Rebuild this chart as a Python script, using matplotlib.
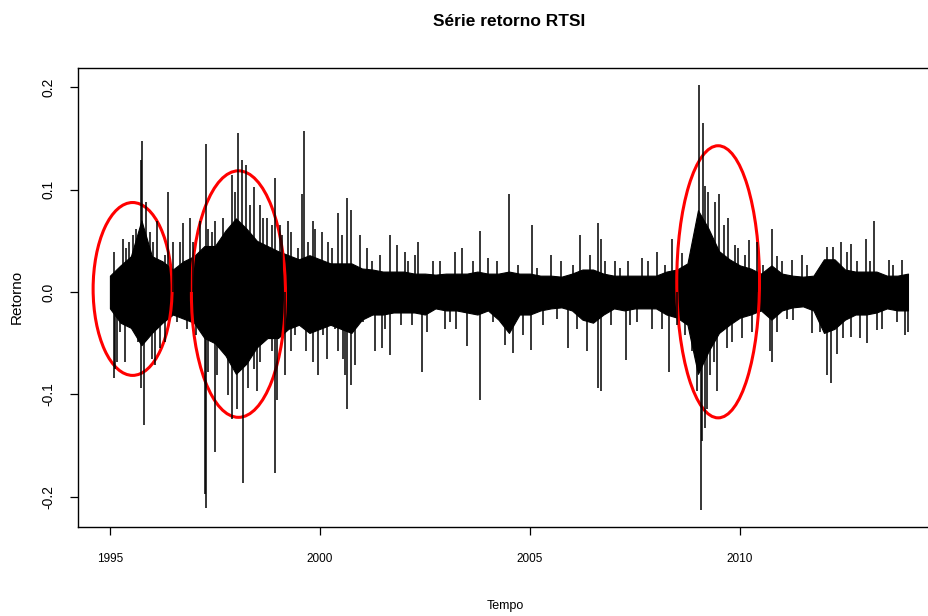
import numpy as np
import matplotlib
matplotlib.use("Agg")
import matplotlib.pyplot as plt
from matplotlib.patches import Ellipse

plt.rcParams['font.family'] = ['Liberation Sans', 'DejaVu Sans']

# ---- data ----
core_years = [1995.00, 1995.25, 1995.50, 1995.75, 1996.00, 1996.25, 1996.50, 1996.75,
              1997.00, 1997.25, 1997.50, 1997.75, 1998.00, 1998.25, 1998.50, 1998.75,
              1999.00, 1999.25, 1999.50, 1999.75, 2000.00, 2000.25, 2000.50, 2000.75,
              2001.00, 2001.25, 2001.50, 2001.75, 2002.00, 2002.25, 2002.50, 2002.75,
              2003.00, 2003.25, 2003.50, 2003.75, 2004.00, 2004.25, 2004.50, 2004.75,
              2005.00, 2005.25, 2005.50, 2005.75, 2006.00, 2006.25, 2006.50, 2006.75,
              2007.00, 2007.25, 2007.50, 2007.75, 2008.00, 2008.25, 2008.50, 2008.75,
              2009.00, 2009.25, 2009.50, 2009.75, 2010.00, 2010.25, 2010.50, 2010.75,
              2011.00, 2011.25, 2011.50, 2011.75, 2012.00, 2012.25, 2012.50, 2012.75,
              2013.00, 2013.25, 2013.50, 2013.75, 2014.00]
core_upper = [0.016, 0.026, 0.035, 0.070, 0.035, 0.030, 0.022, 0.030,
              0.035, 0.045, 0.045, 0.060, 0.072, 0.062, 0.050, 0.045,
              0.040, 0.036, 0.032, 0.036, 0.032, 0.028, 0.028, 0.028,
              0.023, 0.022, 0.020, 0.020, 0.020, 0.018, 0.018, 0.017,
              0.018, 0.018, 0.018, 0.020, 0.018, 0.018, 0.020, 0.018,
              0.018, 0.016, 0.016, 0.015, 0.018, 0.022, 0.022, 0.018,
              0.016, 0.016, 0.016, 0.016, 0.016, 0.020, 0.022, 0.028,
              0.080, 0.062, 0.040, 0.032, 0.026, 0.023, 0.018, 0.026,
              0.018, 0.016, 0.015, 0.016, 0.032, 0.032, 0.022, 0.020,
              0.020, 0.020, 0.016, 0.016, 0.018]
core_lower = [-0.016, -0.030, -0.035, -0.052, -0.040, -0.030, -0.022, -0.026,
              -0.030, -0.045, -0.050, -0.062, -0.080, -0.070, -0.054, -0.045,
              -0.045, -0.036, -0.032, -0.040, -0.036, -0.032, -0.036, -0.040,
              -0.027, -0.022, -0.022, -0.020, -0.020, -0.020, -0.022, -0.016,
              -0.018, -0.018, -0.020, -0.022, -0.018, -0.027, -0.040, -0.022,
              -0.022, -0.018, -0.016, -0.015, -0.018, -0.027, -0.030, -0.022,
              -0.016, -0.018, -0.016, -0.016, -0.016, -0.022, -0.025, -0.032,
              -0.080, -0.058, -0.040, -0.032, -0.025, -0.022, -0.018, -0.027,
              -0.018, -0.015, -0.014, -0.018, -0.040, -0.036, -0.027, -0.022,
              -0.022, -0.020, -0.016, -0.018, -0.018]

spike_years = [1995.10, 1995.10, 1995.12, 1995.17, 1995.30, 1995.36, 1995.46, 1995.62,
               1995.73, 1995.73, 1995.77, 1995.82, 1995.87, 1995.99, 1995.99, 1996.07,
               1996.13, 1996.31, 1996.31, 1996.39, 1996.51, 1996.59, 1996.75, 1996.84,
               1996.90, 1996.98, 1997.14, 1997.26, 1997.29, 1997.29, 1997.34, 1997.34,
               1997.50, 1997.50, 1997.62, 1997.62, 1997.90, 1997.90, 1997.98, 1998.06,
               1998.14, 1998.16, 1998.25, 1998.29, 1998.43, 1998.43, 1998.57, 1998.57,
               1998.65,
               1998.73, 1998.85, 1998.85, 1998.93, 1998.93, 1998.97, 1999.05, 1999.17,
               1999.23, 1999.32, 1999.32, 1999.47, 1999.58, 1999.63, 1999.68, 1999.84,
               1999.84, 1999.96, 2000.04, 2000.16, 2000.28, 2000.44, 2000.44, 2000.56,
               2000.65, 2000.65, 2000.75, 2000.75, 2000.83, 2000.95, 2001.11, 2001.31,
               2001.48, 2001.67, 2001.67, 2001.83, 2002.02, 2002.18, 2002.34, 2002.42,
               2002.54,
               2002.70, 2002.98, 2003.22, 2003.25, 2003.39, 2003.49, 2003.81, 2003.81,
               2004.01, 2004.41, 2004.50, 2004.60, 2004.84, 2005.02, 2005.06, 2005.32,
               2005.50, 2005.75, 2005.91, 2006.19, 2006.37, 2006.43,
               2006.61, 2006.61, 2006.69, 2006.69, 2006.79, 2006.93, 2007.03, 2007.28,
               2007.34, 2007.38, 2007.66, 2007.90, 2008.02, 2008.22, 2008.31, 2008.38,
               2008.63, 2008.85, 2008.85, 2008.93, 2009.03, 2009.07, 2009.09, 2009.13,
               2009.17, 2009.17, 2009.25, 2009.29, 2009.41, 2009.46, 2009.50, 2009.61,
               2009.72, 2009.80, 2009.88, 2010.04, 2010.22, 2010.28, 2010.40,
               2010.72, 2010.77, 2010.77, 2010.88, 2010.88, 2011.00, 2011.23, 2011.27,
               2011.47, 2011.71, 2012.07, 2012.07, 2012.16, 2012.21, 2012.41, 2012.46,
               2012.64, 2012.64, 2012.86, 2013.00, 2013.02, 2013.20, 2013.26, 2013.54,
               2013.73, 2013.85, 2013.93, 2014.01,
               # medium strokes around the dense body
               1995.04, 1995.24, 1995.38, 1995.52, 1995.56, 1995.67, 1995.95, 1996.03,
               1996.19, 1996.23, 1996.67, 1997.06, 1997.42, 1997.54, 1997.70, 1997.82,
               1998.02, 1998.33, 1998.49,
               1998.77, 1999.09, 1999.40, 1999.72, 1999.88, 2000.08, 2000.20, 2000.36,
               2000.52, 2000.59, 2001.03, 2001.23, 2001.43, 2001.55, 2001.94, 2002.10,
               2002.26,
               2002.86, 2003.10, 2003.65, 2004.13, 2004.21, 2004.72, 2005.16, 2005.64,
               2006.03, 2006.11,
               2007.15, 2007.54, 2007.82, 2008.14, 2008.49, 2008.69, 2008.97, 2009.21,
               2009.37, 2009.68, 2009.96, 2010.12,
               2010.56, 2011.11, 2011.59, 2011.91, 2012.31, 2012.54, 2012.78, 2013.10,
               2013.38, 2013.65]
spike_values = [0.039, -0.084, -0.075, -0.068, 0.052, -0.068, 0.049, 0.062,
                0.129, -0.094, 0.148, -0.130, 0.088, 0.035, -0.065, -0.071,
                0.069, 0.036, -0.049, 0.098, 0.049, -0.029, 0.067, -0.036,
                0.072, 0.049, 0.069, -0.197, 0.145, -0.211, 0.062, -0.078,
                0.069, -0.156, 0.043, -0.055, 0.114, -0.124, 0.098, 0.155,
                0.129, -0.187, 0.124, -0.094, 0.103, -0.075, 0.085, -0.068,
                0.072,
                0.072, 0.066, -0.058, 0.111, -0.177, -0.106, 0.066, -0.081,
                0.069, 0.059, -0.058, 0.043, 0.096, 0.157, -0.058, 0.069,
                -0.068, -0.081, 0.059, -0.065, 0.043, 0.077, -0.058, -0.065,
                0.092, -0.114, 0.080, -0.091, -0.071, 0.056, 0.043, -0.058,
                -0.055, 0.056, -0.062, 0.046, 0.039, -0.032, 0.049, -0.078,
                -0.039,
                0.030, -0.036, 0.039, -0.036, 0.043, -0.053, 0.060, -0.106,
                0.033, -0.052, 0.096, -0.060, -0.042, -0.057, 0.066, -0.032,
                0.036, 0.030, -0.055, 0.056, -0.058, 0.036,
                0.067, -0.094, 0.052, -0.097, 0.030, -0.032, 0.030, -0.066,
                0.030, -0.032, 0.033, -0.036, 0.039, 0.026, -0.078, 0.052,
                0.038, 0.033, -0.058, 0.036, 0.202, -0.213, -0.146, 0.165,
                0.104, -0.133, 0.098, -0.081, 0.088, -0.097, 0.096, 0.066,
                0.072, -0.049, 0.046, -0.045, 0.051, -0.039, 0.049,
                -0.058, 0.062, -0.068, 0.035, -0.039, 0.030, 0.031, -0.027,
                0.036, -0.040, 0.044, -0.081, -0.089, 0.044, 0.049, -0.045,
                0.047, -0.044, -0.045, 0.052, -0.050, 0.069, -0.037, 0.031,
                -0.029, 0.031, -0.042, -0.039,
                0.017, -0.039, 0.043, -0.036, 0.056, -0.049, 0.059, 0.049,
                -0.055, 0.030, 0.049, -0.042, 0.059, -0.081, 0.072, -0.101,
                -0.114, 0.085, -0.097,
                -0.042, 0.056, -0.042, 0.049, 0.062, -0.042, 0.049, -0.036,
                0.056, -0.081, -0.029, 0.030, 0.036, -0.036, -0.032, 0.030,
                0.036,
                0.030, -0.029, 0.030, -0.029, 0.030, 0.026, 0.023, -0.026,
                0.026, -0.036,
                0.023, -0.029, 0.030, -0.036, -0.032, -0.042, -0.097, -0.114,
                -0.068, -0.055, 0.043, 0.036,
                0.026, -0.026, 0.026, -0.039, -0.061, 0.039, 0.030, 0.030,
                -0.036, 0.026]

x_ticks = [1995, 2000, 2005, 2010]
y_ticks = [0.2, 0.1, 0.0, -0.1, -0.2]
y_tick_labels = ["0.2", "0.1", "0.0", "-0.1", "-0.2"]

# highlighted regions (centre year, centre value, width in years, height in return)
ellipse_centers = [(1995.54, 0.003), (1998.06, -0.002), (2009.48, 0.010)]
ellipse_widths = [1.88, 2.24, 1.97]
ellipse_heights = [0.169, 0.241, 0.266]

# ---- figure ----
W, H = 929, 616
fig = plt.figure(figsize=(W / 100, H / 100), dpi=100)
ax = fig.add_axes([78 / W, 1 - 527 / H, (942 - 78) / W, (527 - 68) / H])

ax.fill_between(core_years, core_lower, core_upper, color='black', linewidth=0.8,
                edgecolor='black')
ax.vlines(spike_years, 0, spike_values, color='black', linewidth=1.1)

for (cx, cy), w, h in zip(ellipse_centers, ellipse_widths, ellipse_heights):
    ax.add_patch(Ellipse((cx, cy), w, h, fill=False, edgecolor='#ff0000', linewidth=2.2))

ax.set_xlim(1994.24, 2014.81)
ax.set_ylim(-0.2297, 0.219)
ax.set_xticks(x_ticks)
ax.set_xticklabels([str(t) for t in x_ticks], fontsize=8.5)
ax.set_yticks(y_ticks)
ax.set_yticklabels(y_tick_labels, fontsize=10, rotation=90, va='center')
ax.tick_params(axis='x', length=6, width=0.9, pad=13)
ax.tick_params(axis='y', length=6, width=0.9, pad=10)
for s in ax.spines.values():
    s.set_linewidth(1.0)

fig.text(509 / W, 1 - 22 / H, "Série retorno RTSI", ha='center', va='center',
         fontsize=12.5, fontweight='bold')
fig.text(505 / W, 1 - 606 / H, "Tempo", ha='center', va='center', fontsize=9)
fig.text(17 / W, 1 - 297 / H, "Retorno", ha='center', va='center', fontsize=11,
         rotation=90)

fig.savefig("out.png", dpi=100)
